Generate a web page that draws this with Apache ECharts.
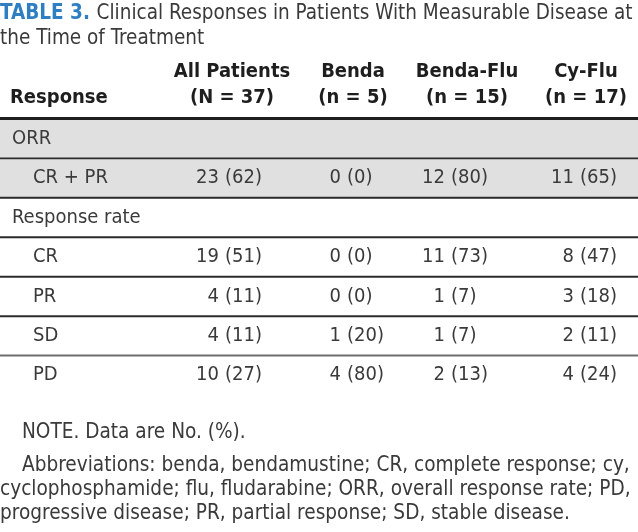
<!DOCTYPE html>
<html>
<head>
<meta charset="utf-8">
<script src="https://cdn.jsdelivr.net/npm/echarts@6/dist/echarts.min.js"></script>
<style>
html,body{margin:0;padding:0;background:#fff;}
#chart{width:638px;height:532px;}
</style>
</head>
<body>
<div id="chart"></div>
<script>
// ---- data ----
const titleLabel = 'TABLE 3.';
const titleText = 'Clinical Responses in Patients With Measurable Disease at';
const titleText2 = 'the Time of Treatment';
const stubHeader = 'Response';
const columnNames = ['All Patients', 'Benda', 'Benda-Flu', 'Cy-Flu'];
const columnN = ['(N = 37)', '(n = 5)', '(n = 15)', '(n = 17)'];
const rowLabels = ['ORR', 'CR + PR', 'Response rate', 'CR', 'PR', 'SD', 'PD'];
const rowIndent = [0, 1, 0, 1, 1, 1, 1];
const rowShaded = [1, 1, 0, 0, 0, 0, 0];
const allPatientsN = [null, 23, null, 19, 4, 4, 10];
const allPatientsPct = [null, 62, null, 51, 11, 11, 27];
const bendaN = [null, 0, null, 0, 0, 1, 4];
const bendaPct = [null, 0, null, 0, 0, 20, 80];
const bendaFluN = [null, 12, null, 11, 1, 1, 2];
const bendaFluPct = [null, 80, null, 73, 7, 7, 13];
const cyFluN = [null, 11, null, 8, 3, 2, 4];
const cyFluPct = [null, 65, null, 47, 18, 11, 24];
const noteLines = [
  'NOTE. Data are No. (%).',
  'Abbreviations: benda, bendamustine; CR, complete response; cy,',
  'cyclophosphamide; flu, fludarabine; ORR, overall response rate; PD,',
  'progressive disease; PR, partial response; SD, stable disease.'
];

// ---- layout / style ----
const FONT = "'DejaVu Sans Condensed', 'Liberation Sans Narrow', sans-serif";
const W = 638;
const counts = [allPatientsN, bendaN, bendaFluN, cyFluN];
const pcts = [allPatientsPct, bendaPct, bendaFluPct, cyFluPct];
const countRight = [219, 341, 445, 574];
const headerCenter = [232, 353, 467, 586];
const textColor = '#3a3a3a';
const headColor = '#1e1e1e';
const lineColors = ['#2b2b2b', '#2b2b2b', '#2b2b2b', '#2b2b2b', '#2b2b2b', '#6e6e6e', null];

const chart = echarts.init(document.getElementById('chart'), null, {renderer: 'canvas'});

const rowData = rowLabels.map((_, i) => [0, i]);

const graphics = [
  {type: 'text', x: 0, y: 14, style: {
    text: '{b|' + titleLabel + '}  {n|' + titleText + '}',
    verticalAlign: 'middle',
    rich: {
      b: {fontFamily: FONT, fontSize: 20.5, fontWeight: 'bold', fill: '#2f7ec2'},
      n: {fontFamily: FONT, fontSize: 20.5, fill: textColor}
    }
  }},
  {type: 'text', x: 0, y: 39, style: {text: titleText2, fontFamily: FONT, fontSize: 20.5, fill: textColor, verticalAlign: 'middle'}},
  {type: 'text', x: 10, y: 98, style: {text: stubHeader, fontFamily: FONT, fontSize: 20, fontWeight: 'bold', fill: headColor, verticalAlign: 'middle'}},
  {type: 'rect', shape: {x: 0, y: 117, width: W, height: 3}, style: {fill: headColor}}
];
columnNames.forEach((c, i) => {
  graphics.push({type: 'text', x: headerCenter[i], y: 72, style: {text: c, fontFamily: FONT, fontSize: 20, fontWeight: 'bold', fill: headColor, align: 'center', verticalAlign: 'middle'}});
  graphics.push({type: 'text', x: headerCenter[i], y: 98, style: {text: columnN[i], fontFamily: FONT, fontSize: 20, fontWeight: 'bold', fill: headColor, align: 'center', verticalAlign: 'middle'}});
});
noteLines.forEach((t, i) => {
  graphics.push({type: 'text', x: i < 2 ? 22 : 0, y: i === 0 ? 433 : 466 + (i - 1) * 24, style: {text: t, fontFamily: FONT, fontSize: 20.6, fill: textColor, verticalAlign: 'middle'}});
});

chart.setOption({
  animation: false,
  grid: {left: 0, right: 0, top: 120, height: 276},
  xAxis: {type: 'value', min: 0, max: W, show: false},
  yAxis: {type: 'category', data: rowLabels, inverse: true, show: false},
  graphic: graphics,
  series: [{
    type: 'custom',
    data: rowData,
    encode: {x: 0, y: 1},
    renderItem: function (params, api) {
      const r = api.value(1);
      const c = api.coord([0, r]);
      const bandH = api.size([0, 1])[1];
      const top = c[1] - bandH / 2;
      const children = [];
      if (rowShaded[r]) {
        children.push({type: 'rect', shape: {x: 0, y: top, width: W, height: bandH}, style: {fill: '#e1e0e0'}});
      }
      if (lineColors[r]) {
        children.push({type: 'rect', shape: {x: 0, y: top + bandH - 2, width: W, height: 2}, style: {fill: lineColors[r]}});
      }
      children.push({type: 'text', style: {text: rowLabels[r], x: rowIndent[r] ? 33 : 12, y: c[1] - 1, fontFamily: FONT, fontSize: 20, fill: textColor, verticalAlign: 'middle'}});
      for (let k = 0; k < 4; k++) {
        if (counts[k][r] === null) continue;
        const xr = api.coord([countRight[k], r])[0];
        children.push({type: 'text', style: {text: String(counts[k][r]), x: xr, y: c[1] - 1, align: 'right', fontFamily: FONT, fontSize: 20, fill: textColor, verticalAlign: 'middle'}});
        children.push({type: 'text', style: {text: '(' + pcts[k][r] + ')', x: xr + 6, y: c[1] - 1, align: 'left', fontFamily: FONT, fontSize: 20, fill: textColor, verticalAlign: 'middle'}});
      }
      return {type: 'group', children: children};
    }
  }]
});
</script>
</body>
</html>
